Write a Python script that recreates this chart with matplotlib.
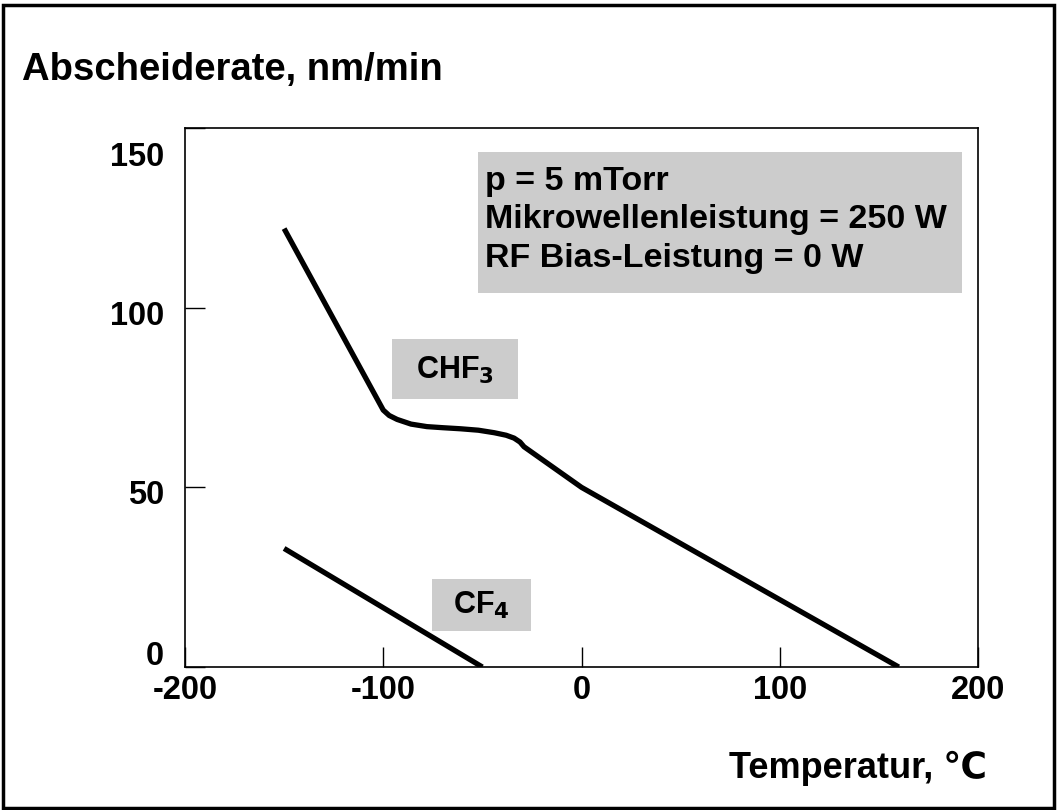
import matplotlib.pyplot as plt
from matplotlib.patches import Rectangle
from matplotlib.transforms import ScaledTranslation

plt.rcParams['font.family'] = ['Liberation Sans', 'DejaVu Sans']
plt.rcParams['font.weight'] = 'bold'
plt.rcParams['axes.unicode_minus'] = False

# Abscheiderate über Temperatur
chf3_t = [-150, -100, -97, -93, -86, -78, -70, -61, -52, -44, -38, -34, -31, -29, 0, 160]
chf3_r = [122, 71.5, 70.0, 68.9, 67.6, 66.9, 66.6, 66.3, 65.9, 65.2, 64.5, 63.7, 62.6, 61.3, 50, 0]
cf4_t = [-150, -50]
cf4_r = [33, 0]

x_ticks = [-200, -100, 0, 100, 200]
y_ticks = [0, 50, 100, 150]
# Versatz der y-Beschriftungen in Pixeln (positiv = nach oben)
y_label_shift = [14, -5, -5, -26]

info = "p = 5 mTorr\nMikrowellenleistung = 250 W\nRF Bias-Leistung = 0 W"

fig = plt.figure(figsize=(10.57, 8.10), dpi=100)
ax = fig.add_axes([0.175, 0.1765, 0.7503, 0.6655])

ax.plot(chf3_t, chf3_r, color='black', lw=3.8, solid_capstyle='butt', solid_joinstyle='round')
ax.plot(cf4_t, cf4_r, color='black', lw=3.8, solid_capstyle='butt')

ax.set_xlim(-200, 200)
ax.set_ylim(0, 150)
ax.set_xticks(x_ticks)
ax.set_yticks(y_ticks)
ax.tick_params(axis='x', direction='in', length=14.5, width=1, pad=6, labelsize=23.5)
ax.tick_params(axis='y', direction='in', length=14.5, width=1, pad=15, labelsize=23.5)
for s in ax.spines.values():
    s.set_linewidth(1.2)

for dy, lab in zip(y_label_shift, ax.get_yticklabels()):
    lab.set_transform(lab.get_transform() + ScaledTranslation(0, dy / 100, fig.dpi_scale_trans))

# graue Beschriftungsfelder
gray = '#cccccc'
ax.add_patch(Rectangle((-52.4, 104.1), 244.5, 39.2, facecolor=gray, edgecolor='none'))
ax.text(-48.5, 124.4, info, fontsize=24.5, fontweight='bold', va='center', ha='left',
        linespacing=1.3)

ax.add_patch(Rectangle((-95.8, 74.6), 64, 16.7, facecolor=gray, edgecolor='none'))
ax.text(-63.8, 82.6, 'CHF$_\\mathbf{3}$', fontsize=22, fontweight='bold',
        ha='center', va='center')

ax.add_patch(Rectangle((-75.6, 10.0), 49.9, 14.5, facecolor=gray, edgecolor='none'))
ax.text(-50.5, 17.0, 'CF$_\\mathbf{4}$', fontsize=22, fontweight='bold',
        ha='center', va='center')

fig.text(22 / 1057, 1 - 70 / 810, 'Abscheiderate, nm/min', fontsize=27.5,
         fontweight='bold', ha='left', va='center')
fig.text(858 / 1057, 1 - 768 / 810, 'Temperatur, \u2103', fontsize=26,
         fontweight='bold', ha='center', va='center')

# Rahmen um die ganze Abbildung
fig.patches.append(Rectangle((0.003, 0.003), 0.994, 0.991, transform=fig.transFigure,
                             fill=False, edgecolor='black', lw=2.5))

fig.savefig('out.png', dpi=100)
